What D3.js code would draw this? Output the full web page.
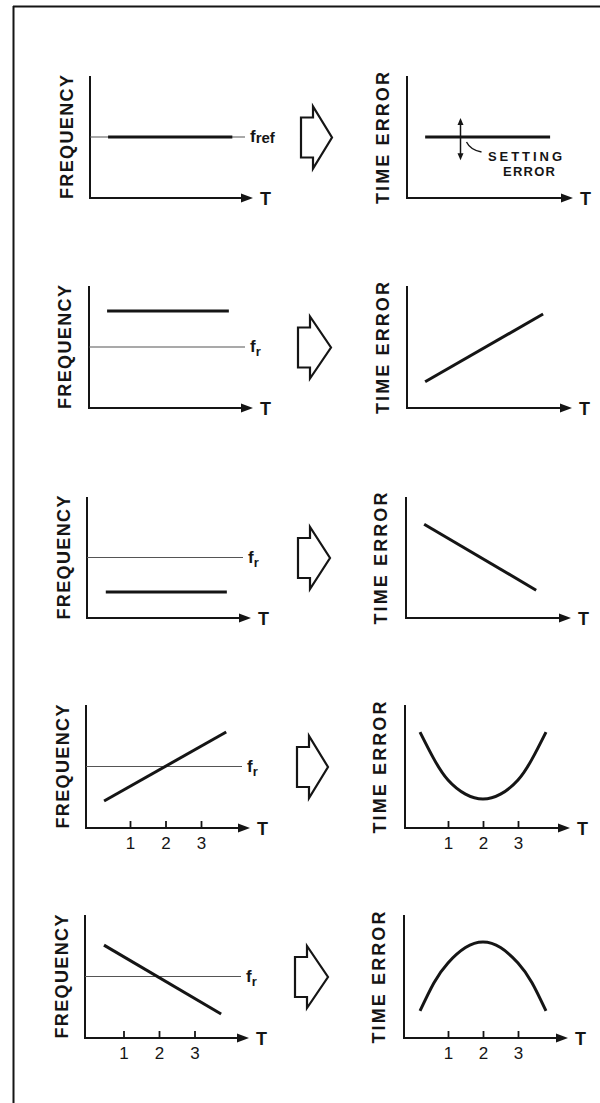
<!DOCTYPE html>
<html>
<head>
<meta charset="utf-8">
<script src="https://cdn.jsdelivr.net/npm/d3@7"></script>
<style>
  html, body { margin: 0; padding: 0; background: #fff; }
  svg { display: block; }
  text { font-family: "Liberation Sans", Arial, Helvetica, sans-serif; fill: #151515; }
</style>
</head>
<body>
<svg id="chart" width="600" height="1103"></svg>
<script>
// ---------------- DATA ----------------
const leftAxisLabel = "FREQUENCY";
const rightAxisLabel = "TIME ERROR";
const timeLabel = "T";
const refSubscripts = ["ref", "r", "r", "r", "r"];
const refLevel = 0;
const tickValues = [1, 2, 3];
const rowsWithTicks = [false, false, false, true, true];

// frequency curves (T, relative level; 0 = reference frequency)
const freqRow1 = [[0.27, 0], [3.77, 0]];
const freqRow2 = [[0.27, 0.59], [3.70, 0.59]];
const freqRow3 = [[0.29, -0.57], [3.70, -0.57]];
const freqRow4 = [[0.27, -0.56], [3.71, 0.56]];
const freqRow5 = [[0.45, 0.51], [3.75, -0.61]];
const freqSeries = [freqRow1, freqRow2, freqRow3, freqRow4, freqRow5];

// time-error curves
const errRow1 = [[0.29, 0], [3.86, 0]];
const errRow2 = [[0.29, -0.57], [3.66, 0.54]];
const errRow3 = [[0.29, 0.55], [3.49, -0.54]];
const errRow4 = [[0.2, 0.56], [0.6, 0.12], [1, -0.22], [1.5, -0.45], [2, -0.53], [2.5, -0.45], [3, -0.22], [3.4, 0.12], [3.8, 0.56]];
const errRow5 = [[0.2, -0.56], [0.6, -0.1], [1, 0.22], [1.5, 0.47], [2, 0.56], [2.5, 0.47], [3, 0.22], [3.4, -0.1], [3.8, -0.56]];
const errSeries = [errRow1, errRow2, errRow3, errRow4, errRow5];

// setting error annotation (row 1, right)
const settingErrorT = 1.3;
const settingErrorRange = [-0.38, 0.31];
const settingErrorText = ["SETTING", "ERROR"];

// ---------------- LAYOUT ----------------
const leftLayout = [
  {ax: 90, t0: 98.5, unit: 35.5, tip: 253, top: 76,  bottom: 198, label: 66.5},
  {ax: 89, t0: 97.5, unit: 35.5, tip: 253, top: 286, bottom: 408, label: 64},
  {ax: 87, t0: 95.5, unit: 35.5, tip: 251, top: 497, bottom: 618, label: 63.5},
  {ax: 86, t0: 94.5, unit: 35.5, tip: 250, top: 705, bottom: 828, label: 62.5},
  {ax: 85, t0: 88,   unit: 35.5, tip: 249, top: 915, bottom: 1038, label: 61}
];
const rightLayout = [
  {ax: 407, t0: 415, unit: 35, tip: 573, top: 76,  bottom: 198, label: 382},
  {ax: 407, t0: 415, unit: 35, tip: 572, top: 286, bottom: 408, label: 382},
  {ax: 406, t0: 414, unit: 35, tip: 571, top: 497, bottom: 618, label: 380},
  {ax: 405, t0: 413, unit: 35, tip: 570, top: 705, bottom: 828, label: 379},
  {ax: 404, t0: 413, unit: 35, tip: 568, top: 915, bottom: 1038, label: 378}
];
const blockArrowLayout = [
  {x: 301, tip: 332}, {x: 298, tip: 331}, {x: 298, tip: 330}, {x: 297, tip: 328}, {x: 295, tip: 328}
];

const ink = "#151515";
const svg = d3.select("#chart");
svg.append("rect").attr("width", 600).attr("height", 1103).attr("fill", "#fff");

// frame
svg.append("line").attr("x1", 13).attr("x2", 600).attr("y1", 6.5).attr("y2", 6.5)
  .attr("stroke", ink).attr("stroke-width", 2);
svg.append("line").attr("x1", 13.5).attr("x2", 13.5).attr("y1", 6).attr("y2", 1103)
  .attr("stroke", ink).attr("stroke-width", 2);

function drawPanel(L, rowIdx, series, labelText, isLeft) {
  const g = svg.append("g");
  const tMin = (L.ax - L.t0) / L.unit;
  const tMax = (L.tip - L.t0) / L.unit;
  const x = d3.scaleLinear().domain([tMin, tMax]).range([L.ax, L.tip]);
  const y = d3.scaleLinear().domain([-1, 1]).range([L.bottom, L.top]);

  // axes
  g.append("line").attr("x1", L.ax).attr("x2", L.ax).attr("y1", L.top).attr("y2", L.bottom + 1)
    .attr("stroke", ink).attr("stroke-width", 2);
  g.append("line").attr("x1", L.ax - 1).attr("x2", L.tip - 8).attr("y1", L.bottom).attr("y2", L.bottom)
    .attr("stroke", ink).attr("stroke-width", 2);
  g.append("path")
    .attr("d", `M${L.tip},${L.bottom} L${L.tip - 12},${L.bottom - 4.5} L${L.tip - 12},${L.bottom + 4.5} Z`)
    .attr("fill", ink);
  g.append("text").attr("x", L.tip + 7).attr("y", L.bottom + 7)
    .attr("font-size", 18).attr("font-weight", "bold").text(timeLabel);

  // ticks
  if (rowsWithTicks[rowIdx]) {
    const ax = g.append("g").attr("transform", `translate(0,${L.bottom})`)
      .call(d3.axisBottom(x).tickValues(tickValues).tickSizeInner(-7).tickSizeOuter(0).tickPadding(9)
        .tickFormat(d3.format("d")));
    ax.select(".domain").remove();
    ax.selectAll(".tick line").attr("stroke", ink).attr("stroke-width", 1.8).attr("y2", -7);
    ax.selectAll(".tick text").attr("font-size", 17).attr("font-family", "Liberation Sans, Arial, sans-serif")
      .attr("fill", ink).attr("font-weight", "normal");
  }

  // rotated axis label
  const cy = (L.top + L.bottom) / 2 + (isLeft ? 0 : 1);
  g.append("text")
    .attr("transform", `translate(${L.label + 6.5},${cy}) rotate(-90)`)
    .attr("text-anchor", "middle")
    .attr("font-size", 18).attr("font-weight", "bold")
    .attr("textLength", isLeft ? 124 : 132).attr("lengthAdjust", "spacing")
    .text(labelText);

  // reference line
  if (isLeft) {
    g.append("line").attr("x1", L.ax).attr("x2", L.tip - 8)
      .attr("y1", y(refLevel)).attr("y2", y(refLevel))
      .attr("stroke", "#555").attr("stroke-width", 1.1);
    const t = g.append("text").attr("x", L.tip - 3).attr("y", y(refLevel) + 5)
      .attr("font-size", 17).attr("font-weight", "bold");
    t.append("tspan").text("f");
    const sub = refSubscripts[rowIdx];
    t.append("tspan").attr("font-size", sub === "ref" ? 15 : 13)
      .attr("dy", sub === "ref" ? 1 : 4).text(sub);
  }

  // main curve
  const line = d3.line().x(d => x(d[0])).y(d => y(d[1]))
    .curve(series.length > 2 ? d3.curveNatural : d3.curveLinear);
  g.append("path").datum(series).attr("d", line)
    .attr("fill", "none").attr("stroke", ink).attr("stroke-width", 3);

  return {x, y, g};
}

for (let i = 0; i < 5; i++) {
  drawPanel(leftLayout[i], i, freqSeries[i], leftAxisLabel, true);
  const r = drawPanel(rightLayout[i], i, errSeries[i], rightAxisLabel, false);

  if (i === 0) {
    const sx = r.x(settingErrorT);
    const y1 = r.y(settingErrorRange[1]), y0 = r.y(settingErrorRange[0]);
    r.g.append("line").attr("x1", sx).attr("x2", sx).attr("y1", y1 + 5).attr("y2", y0 - 5)
      .attr("stroke", ink).attr("stroke-width", 1.5);
    r.g.append("path").attr("d", `M${sx},${y1} L${sx - 3},${y1 + 7} L${sx + 3},${y1 + 7} Z`).attr("fill", ink);
    r.g.append("path").attr("d", `M${sx},${y0} L${sx - 3},${y0 - 7} L${sx + 3},${y0 - 7} Z`).attr("fill", ink);
    r.g.append("path").attr("d", `M${sx + 6},${r.y(0) + 5} Q${sx + 10},${r.y(0) + 13} ${sx + 21},${r.y(0) + 15}`)
      .attr("fill", "none").attr("stroke", ink).attr("stroke-width", 1.4);
    r.g.append("text").attr("x", 488).attr("y", 161).attr("font-size", 13).attr("font-weight", "bold")
      .attr("textLength", 74).attr("lengthAdjust", "spacing").text(settingErrorText[0]);
    r.g.append("text").attr("x", 503).attr("y", 176).attr("font-size", 13).attr("font-weight", "bold")
      .attr("textLength", 52).attr("lengthAdjust", "spacing").text(settingErrorText[1]);
  }

  // block arrow between panels, tip aligned with reference level
  const B = blockArrowLayout[i];
  const yc = d3.scaleLinear().domain([-1, 1]).range([leftLayout[i].bottom, leftLayout[i].top])(refLevel) + 0.5;
  const bx = B.x, hx = B.x + 12;
  const pts = [[bx, yc - 20], [hx, yc - 20], [hx, yc - 31], [B.tip, yc], [hx, yc + 31], [hx, yc + 20], [bx, yc + 20]];
  svg.append("path").attr("d", d3.line()(pts) + "Z")
    .attr("fill", "#fff").attr("stroke", ink).attr("stroke-width", 2.2).attr("stroke-linejoin", "miter");
}
</script>
</body>
</html>
